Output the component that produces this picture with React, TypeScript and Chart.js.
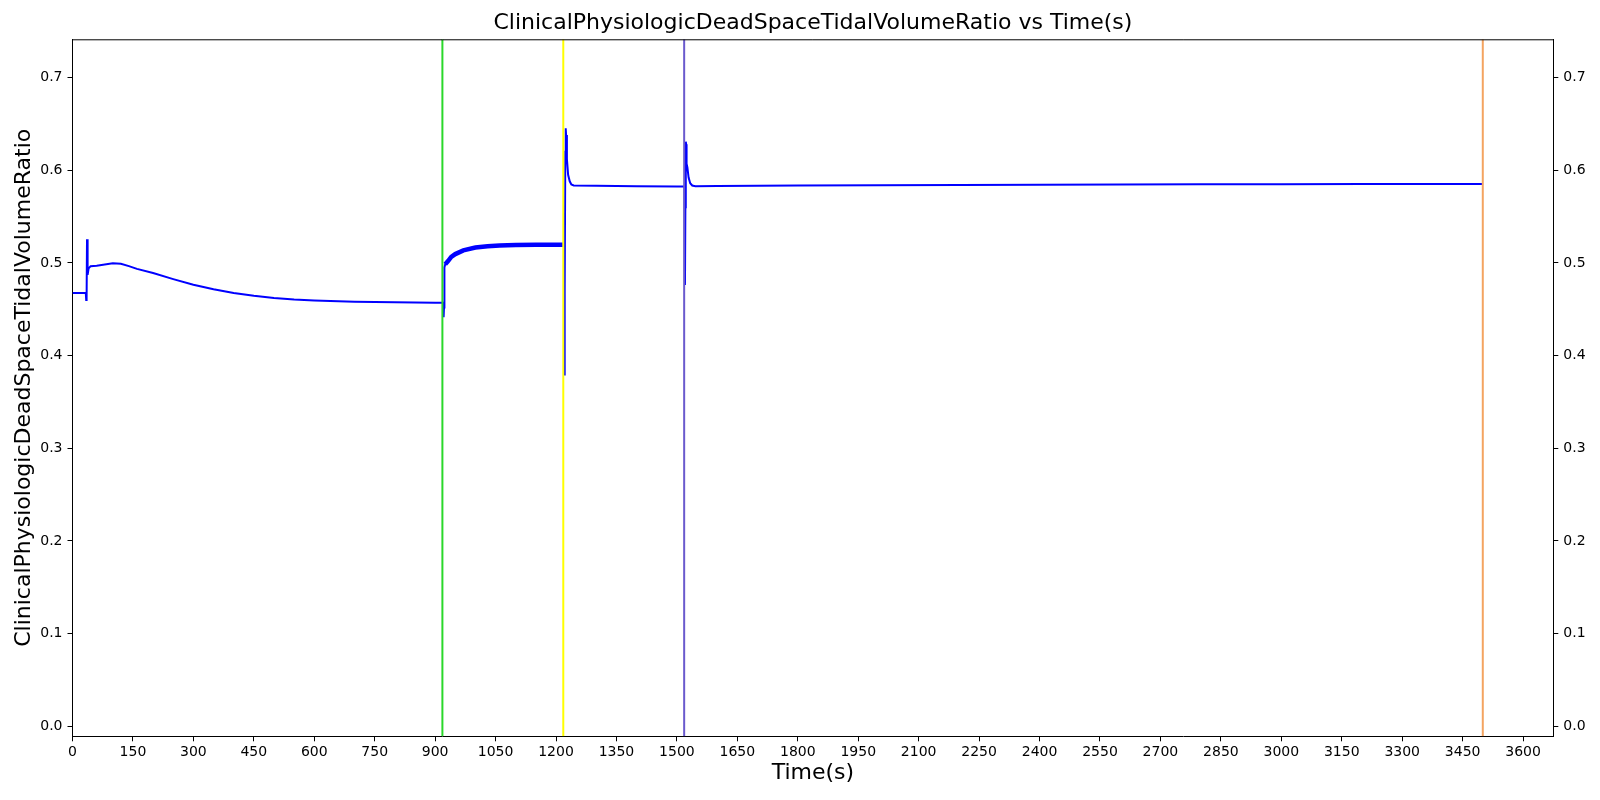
import React, { useEffect, useRef } from "react";
import { Chart, registerables } from "chart.js";

Chart.register(...registerables);

const titleText = "ClinicalPhysiologicDeadSpaceTidalVolumeRatio vs Time(s)";
const xLabel = "Time(s)";
const yLabel = "ClinicalPhysiologicDeadSpaceTidalVolumeRatio";

const times = [
  0, 33, 34, 35, 36, 37, 38, 40, 45, 60, 100, 120, 140, 160, 200, 250, 300, 350, 400, 450, 500, 550, 600, 700, 800, 900, 920,
  921, 922, 923, 925, 932, 940, 950, 970, 1000, 1030, 1060, 1100, 1150, 1200, 1219,
  1220, 1221, 1222, 1223, 1224, 1225, 1227, 1230, 1234, 1238, 1244, 1300, 1400, 1500, 1519,
  1520, 1521, 1522, 1523, 1524, 1526, 1529, 1533, 1538, 1546, 1600, 1800, 2000, 2200, 2400, 2600, 2800, 3000, 3200, 3400, 3500,
];
const ratios = [
  0.4675, 0.4675, 0.46, 0.4625, 0.5255, 0.5, 0.487, 0.494, 0.4965, 0.497, 0.4995, 0.499, 0.4965, 0.4935, 0.489, 0.4825, 0.4765, 0.4715, 0.4675, 0.4645, 0.462, 0.4605, 0.4595, 0.4582, 0.4575, 0.457, 0.457,
  0.4413, 0.452, 0.495, 0.4985, 0.502, 0.5065, 0.5095, 0.5135, 0.5165, 0.518, 0.5188, 0.5192, 0.5195, 0.5197, 0.5197,
  0.517, 0.3785, 0.47, 0.62, 0.6452, 0.638, 0.612, 0.595, 0.588, 0.5845, 0.5836, 0.5832, 0.5828, 0.5825, 0.5825,
  0.4762, 0.56, 0.6307, 0.628, 0.607, 0.603, 0.592, 0.586, 0.5835, 0.5828, 0.583, 0.5834, 0.5838, 0.5841, 0.5844, 0.5846, 0.5848, 0.5849, 0.585, 0.5851, 0.5851,
];
const bandStart = 925;
const bandEnd = 1219;

const eventTimes = [918, 1218, 1518, 3500];
const eventColors = ["#2ad82a", "#ffff00", "#6a5acd", "#f4a460"];

const xTicks = [0, 150, 300, 450, 600, 750, 900, 1050, 1200, 1350, 1500, 1650, 1800, 1950, 2100, 2250, 2400, 2550, 2700, 2850, 3000, 3150, 3300, 3450, 3600];
const yTicks = [0, 0.1, 0.2, 0.3, 0.4, 0.5, 0.6, 0.7];

const xMin = 0;
const xMax = 3675;
const yMin = -0.0107;
const yMax = 0.7412;

const FONT = '"DejaVu Sans", sans-serif';

export default function App() {
  const ref = useRef<HTMLCanvasElement | null>(null);

  useEffect(() => {
    if (!ref.current) return;
    Chart.defaults.font.family = FONT;
    Chart.defaults.color = "#000";

    const series = times.map((t, i) => ({ x: t, y: ratios[i] }));
    const band = series.filter((p) => p.x >= bandStart && p.x <= bandEnd);

    const eventSets = eventTimes.map((t, i) => ({
      type: "line" as const,
      data: [
        { x: t, y: yMin },
        { x: t, y: yMax },
      ],
      borderColor: eventColors[i],
      borderWidth: 2,
      pointRadius: 0,
      order: 0,
      yAxisID: "y",
    }));

    const titlePlugin = {
      id: "topTitleFrame",
      afterDraw(chart: any) {
        const { ctx, chartArea } = chart;
        ctx.save();
        ctx.strokeStyle = "#000";
        ctx.lineWidth = 1;
        ctx.beginPath();
        ctx.moveTo(chartArea.left, chartArea.top + 0.5);
        ctx.lineTo(chartArea.right, chartArea.top + 0.5);
        ctx.stroke();
        ctx.font = `22px ${FONT}`;
        ctx.fillStyle = "#000";
        ctx.textAlign = "center";
        ctx.textBaseline = "middle";
        ctx.fillText(titleText, (chartArea.left + chartArea.right) / 2, 23.5);
        ctx.restore();
      },
    };

    const yTickBuilder = (scale: any) => {
      scale.ticks = yTicks.map((v) => ({ value: v }));
    };

    const chart = new Chart(ref.current, {
      type: "line",
      data: {
        datasets: [
          {
            data: series,
            borderColor: "#0000ff",
            borderWidth: 2,
            pointRadius: 0,
            order: 2,
            yAxisID: "y",
          },
          {
            data: band,
            borderColor: "#0000ff",
            borderWidth: 4.5,
            pointRadius: 0,
            order: 1,
            yAxisID: "y",
          },
          ...eventSets,
        ],
      },
      plugins: [titlePlugin],
      options: {
        animation: false,
        responsive: false,
        layout: { padding: { top: 39.3, left: 0, right: 0, bottom: 0 } },
        plugins: { legend: { display: false }, tooltip: { enabled: false } },
        scales: {
          x: {
            type: "linear",
            min: xMin,
            max: xMax,
            afterBuildTicks: (scale: any) => {
              scale.ticks = xTicks.map((v) => ({ value: v }));
            },
            afterFit: (scale: any) => {
              scale.height = 63.7;
            },
            ticks: {
              font: { size: 14 },
              color: "#000",
              padding: 3,
              maxRotation: 0,
              autoSkip: false,
              callback: (v: any) => String(v),
            },
            grid: { drawOnChartArea: false, drawTicks: true, tickLength: 5, tickColor: "#000" },
            border: { display: true, color: "#000", width: 1 },
            title: { display: true, text: xLabel, font: { size: 22 }, color: "#000", padding: { top: 0, bottom: 13.3 } },
          },
          y: {
            type: "linear",
            position: "left",
            min: yMin,
            max: yMax,
            afterBuildTicks: yTickBuilder,
            afterFit: (scale: any) => {
              scale.width = 72.5;
            },
            ticks: {
              font: { size: 14 },
              color: "#000",
              padding: 5,
              autoSkip: false,
              callback: (v: any) => Number(v).toFixed(1),
            },
            grid: { drawOnChartArea: false, drawTicks: true, tickLength: 5, tickColor: "#000" },
            border: { display: true, color: "#000", width: 1 },
            title: { display: true, text: yLabel, font: { size: 22 }, color: "#000", padding: { top: 11.3, bottom: 0 } },
          },
          y2: {
            type: "linear",
            position: "right",
            min: yMin,
            max: yMax,
            afterBuildTicks: yTickBuilder,
            afterFit: (scale: any) => {
              scale.width = 46.7;
            },
            ticks: {
              font: { size: 14 },
              color: "#000",
              padding: 5,
              autoSkip: false,
              callback: (v: any) => Number(v).toFixed(1),
            },
            grid: { drawOnChartArea: false, drawTicks: true, tickLength: 5, tickColor: "#000" },
            border: { display: true, color: "#000", width: 1 },
          },
        },
      },
    } as any);

    return () => chart.destroy();
  }, []);

  return (
    <div style={{ position: "absolute", left: 0, top: 0, width: 1600, height: 800, background: "#fff" }}>
      <canvas ref={ref} width={1600} height={800} style={{ display: "block", width: 1600, height: 800 }} />
    </div>
  );
}
